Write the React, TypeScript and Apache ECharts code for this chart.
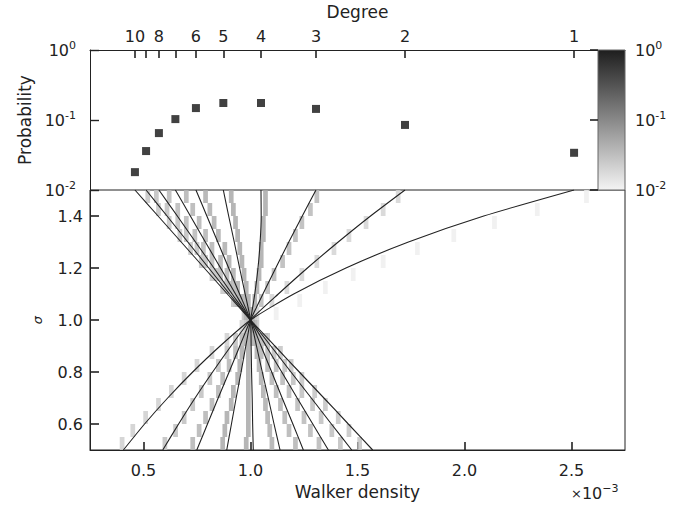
import React, { useEffect, useRef } from "react";
import * as echarts from "echarts";

// ---------- data ----------
const degrees = [10, 9, 8, 7, 6, 5, 4, 3, 2, 1];
const degreeLabels = ["10", "", "8", "", "6", "5", "4", "3", "2", "1"];
// walker density (x 1e-3) at which each degree sits on the top axis
const degreeX = [0.46, 0.512, 0.572, 0.649, 0.745, 0.873, 1.049, 1.306, 1.722, 2.512];
// probability of each degree (top panel)
const probability = [0.018, 0.036, 0.065, 0.103, 0.148, 0.175, 0.175, 0.144, 0.085, 0.034];

const xTicks = [0.5, 1.0, 1.5, 2.0, 2.5];
const sigmaTicks = [0.6, 0.8, 1.0, 1.2, 1.4];

// theory curves: walker density for each degree at these sigma values
const sigmaSamples = [0.5, 0.6, 0.7, 0.8, 0.9, 1.0, 1.1, 1.2, 1.3, 1.4, 1.5];
const curve10 = [1.571, 1.457, 1.343, 1.228, 1.114, 1.0, 0.892, 0.784, 0.676, 0.568, 0.46];
const curve9 = [1.473, 1.378, 1.284, 1.189, 1.095, 1.0, 0.902, 0.805, 0.707, 0.61, 0.512];
const curve8 = [1.364, 1.291, 1.218, 1.146, 1.073, 1.0, 0.914, 0.829, 0.743, 0.658, 0.572];
const curve7 = [1.247, 1.198, 1.148, 1.099, 1.049, 1.0, 0.93, 0.86, 0.789, 0.719, 0.649];
const curve6 = [1.138, 1.11, 1.083, 1.055, 1.028, 1.0, 0.949, 0.898, 0.847, 0.796, 0.745];
const curve5 = [1.013, 1.01, 1.008, 1.005, 1.003, 1.0, 0.975, 0.949, 0.924, 0.898, 0.873];
const curve4 = [0.889, 0.911, 0.933, 0.956, 0.978, 1.0, 1.02, 1.035, 1.045, 1.05, 1.049];
const curve3 = [0.749, 0.799, 0.849, 0.9, 0.95, 1.0, 1.058, 1.118, 1.179, 1.242, 1.306];
const curve2 = [0.59, 0.664, 0.741, 0.823, 0.909, 1.0, 1.13, 1.266, 1.41, 1.561, 1.722];
const curve1 = [0.406, 0.505, 0.613, 0.73, 0.858, 1.0, 1.202, 1.446, 1.738, 2.09, 2.512];
const curves = [curve10, curve9, curve8, curve7, curve6, curve5, curve4, curve3, curve2, curve1];

// simulated histogram cells: row centres (sigma) and the x of the cell in each row, per degree
const cellRows = [0.525, 0.575, 0.625, 0.675, 0.725, 0.775, 0.825, 0.875, 0.925, 0.975,
  1.025, 1.075, 1.125, 1.175, 1.225, 1.275, 1.325, 1.375, 1.425, 1.475];
const cells10 = [1.51, 1.46, 1.41, 1.35, 1.3, 1.24, 1.19, 1.14, 1.08, 1.03, 0.97, 0.92, 0.87, 0.82, 0.77, 0.72, 0.67, 0.62, 0.57, 0.52];
const cells9 = [1.42, 1.38, 1.33, 1.29, 1.24, 1.2, 1.16, 1.11, 1.07, 1.02, 0.98, 0.93, 0.89, 0.84, 0.79, 0.75, 0.7, 0.66, 0.61, 0.56];
const cells8 = [1.32, 1.28, 1.25, 1.22, 1.18, 1.15, 1.12, 1.08, 1.05, 1.02, 0.98, 0.94, 0.9, 0.86, 0.82, 0.78, 0.74, 0.7, 0.66, 0.62];
const cells7 = [1.21, 1.18, 1.16, 1.14, 1.12, 1.1, 1.08, 1.05, 1.03, 1.01, 0.98, 0.95, 0.92, 0.89, 0.86, 0.82, 0.79, 0.76, 0.73, 0.7];
const cells6 = [1.1, 1.09, 1.08, 1.07, 1.06, 1.05, 1.04, 1.03, 1.02, 1.01, 0.99, 0.97, 0.94, 0.92, 0.9, 0.88, 0.85, 0.83, 0.81, 0.79];
const cells5 = [0.98, 0.99, 0.99, 0.99, 0.99, 0.99, 0.99, 0.99, 1.0, 1.0, 1.0, 0.99, 0.98, 0.97, 0.96, 0.95, 0.94, 0.93, 0.92, 0.91];
const cells4 = [0.87, 0.88, 0.89, 0.91, 0.92, 0.94, 0.95, 0.96, 0.98, 0.99, 1.01, 1.02, 1.03, 1.04, 1.05, 1.05, 1.06, 1.06, 1.07, 1.07];
const cells3 = [0.73, 0.76, 0.79, 0.82, 0.85, 0.87, 0.9, 0.93, 0.96, 0.99, 1.02, 1.05, 1.08, 1.11, 1.15, 1.18, 1.21, 1.24, 1.28, 1.31];
const cells2 = [0.6, 0.65, 0.69, 0.73, 0.77, 0.81, 0.85, 0.89, 0.93, 0.98, 1.03, 1.1, 1.17, 1.24, 1.31, 1.39, 1.46, 1.54, 1.62, 1.69];
const cells1 = [0.4, 0.45, 0.51, 0.57, 0.63, 0.69, 0.75, 0.82, 0.89, 0.96, 1.12, 1.23, 1.35, 1.48, 1.62, 1.78, 1.95, 2.14, 2.34, 2.57];
const cellSets = [cells10, cells9, cells8, cells7, cells6, cells5, cells4, cells3, cells2, cells1];
// log10 of the cell shade value for each degree, below and above sigma = 1
const cellLevelLow = [-1.55, -1.5, -1.45, -1.4, -1.35, -1.3, -1.3, -1.4, -1.5, -1.65];
const cellLevelHigh = [-1.55, -1.5, -1.45, -1.4, -1.35, -1.3, -1.3, -1.45, -1.7, -1.95];

const FONT = "DejaVu Sans";
const INK = "#222";

export default function App() {
  const ref = useRef<HTMLDivElement>(null);

  useEffect(() => {
    const chart = echarts.init(ref.current as HTMLDivElement, null, { renderer: "svg" });

    const pow10 = (v: number) => `{b|10}{s|${Math.round(v)}}`;
    const richPow = {
      b: { fontSize: 16, fontFamily: FONT, color: INK, lineHeight: 20 },
      s: { fontSize: 11, fontFamily: FONT, color: INK, verticalAlign: "top", lineHeight: 12 },
    };

    const squares = degreeX.map((x, i) => [x, Math.log10(probability[i])]);

    const cellData: number[][] = [];
    cellSets.forEach((arr, d) => {
      arr.forEach((x, r) =>
        cellData.push([x, cellRows[r], cellRows[r] < 1 ? cellLevelLow[d] : cellLevelHigh[d]])
      );
    });

    const lineSeries = curves.map((c, i) => ({
      type: "line",
      name: `k=${degrees[i]}`,
      xAxisIndex: 1,
      yAxisIndex: 2,
      data: c.map((x, j) => [x, sigmaSamples[j]]),
      showSymbol: false,
      smooth: 0.2,
      lineStyle: { color: INK, width: 1.1 },
      z: 5,
    }));

    const cellW = 0.022;
    const cellH = 0.05;

    const option: any = {
      animation: false,
      textStyle: { fontFamily: FONT },
      grid: [
        { left: 90, right: 70, top: 50, height: 140 },
        { left: 90, right: 70, top: 190, height: 260, show: true, borderColor: INK, borderWidth: 1, backgroundColor: "transparent" },
        {
          left: 598, width: 27, top: 50, height: 140, show: true, borderColor: "#666", borderWidth: 1,
          backgroundColor: new echarts.graphic.LinearGradient(0, 0, 0, 1, [
            { offset: 0, color: "#1e1e1e" },
            { offset: 1, color: "#f4f4f4" },
          ]),
          z: 3,
        },
      ],
      visualMap: {
        show: false,
        type: "continuous",
        seriesIndex: 1,
        dimension: 2,
        min: -2,
        max: 0,
        inRange: { color: ["#f4f4f4", "#1e1e1e"] },
      },
      xAxis: [
        {
          gridIndex: 0,
          type: "value",
          position: "top",
          min: 0.25,
          max: 2.75,
          name: "Degree",
          nameLocation: "middle",
          nameGap: 30,
          nameTextStyle: { fontSize: 17, color: INK, fontFamily: FONT },
          axisLine: { show: true, lineStyle: { color: INK, width: 1 } },
          axisTick: { show: true, inside: true, length: 8, customValues: degreeX, lineStyle: { color: INK, width: 1.6 } },
          axisLabel: {
            show: true,
            customValues: degreeX.filter((_, i) => degreeLabels[i] !== ""),
            margin: 6,
            fontSize: 16,
            color: INK,
            fontFamily: FONT,
            formatter: (v: number) => {
              let best = 0;
              degreeX.forEach((x, i) => { if (Math.abs(x - v) < Math.abs(degreeX[best] - v)) best = i; });
              return degreeLabels[best];
            },
          },
          splitLine: { show: false },
        },
        {
          gridIndex: 1,
          type: "value",
          position: "bottom",
          min: 0.25,
          max: 2.75,
          name: "Walker density",
          nameLocation: "middle",
          nameGap: 33,
          nameTextStyle: { fontSize: 17, color: INK, fontFamily: FONT },
          axisLine: { show: true, lineStyle: { color: INK, width: 1 } },
          axisTick: { show: true, inside: true, length: 8, customValues: xTicks, lineStyle: { color: INK, width: 1.6 } },
          axisLabel: {
            customValues: xTicks,
            margin: 12,
            fontSize: 16,
            color: INK,
            fontFamily: FONT,
            formatter: (v: number) => v.toFixed(1),
          },
          splitLine: { show: false },
        },
        {
          gridIndex: 2,
          type: "value",
          min: 0,
          max: 1,
          show: false,
        },
      ],
      yAxis: [
        {
          gridIndex: 0,
          type: "value",
          min: -2,
          max: 0,
          interval: 1,
          name: "Probability",
          nameLocation: "middle",
          nameGap: 57,
          nameRotate: 90,
          nameTextStyle: { fontSize: 17, color: INK, fontFamily: FONT },
          axisLine: { show: true, lineStyle: { color: INK, width: 1 } },
          axisTick: { show: true, inside: true, length: 9, lineStyle: { color: INK, width: 1.4 } },
          axisLabel: { margin: 14, formatter: pow10, rich: richPow },
          splitLine: { show: false },
        },
        {
          gridIndex: 0,
          type: "value",
          min: -2,
          max: 0,
          axisLine: { show: false },
          axisTick: {
            show: true,
            inside: true,
            length: 4,
            customValues: [2, 3, 4, 5, 6, 7, 8, 9].flatMap((k) => [Math.log10(k) - 2, Math.log10(k) - 1]),
            lineStyle: { color: INK, width: 1 },
          },
          axisLabel: { show: false },
          splitLine: { show: false },
        },
        {
          gridIndex: 1,
          type: "value",
          min: 0.5,
          max: 1.5,
          name: "σ",
          nameLocation: "middle",
          nameGap: 46,
          nameRotate: 90,
          nameTextStyle: { fontSize: 13, color: INK, fontFamily: FONT, fontStyle: "italic" },
          axisLine: { show: true, lineStyle: { color: INK, width: 1 } },
          axisTick: { show: true, inside: true, length: 9, customValues: sigmaTicks, lineStyle: { color: INK, width: 1.6 } },
          axisLabel: {
            customValues: sigmaTicks,
            margin: 7,
            fontSize: 16,
            color: INK,
            fontFamily: FONT,
            formatter: (v: number) => v.toFixed(1),
          },
          splitLine: { show: false },
        },
        {
          gridIndex: 2,
          type: "value",
          position: "right",
          min: -2,
          max: 0,
          interval: 1,
          axisLine: { show: false },
          axisTick: { show: true, inside: true, length: 8, lineStyle: { color: INK, width: 1.6 } },
          axisLabel: { margin: 10, formatter: pow10, rich: richPow },
          splitLine: { show: false },
          z: 4,
        },
      ],
      series: [
        {
          type: "scatter",
          xAxisIndex: 0,
          yAxisIndex: 0,
          data: squares,
          symbol: "rect",
          symbolSize: 8,
          itemStyle: { color: "#111" },
          z: 6,
        },
        {
          type: "custom",
          xAxisIndex: 1,
          yAxisIndex: 2,
          data: cellData,
          clip: true,
          z: 2,
          renderItem: (params: any, api: any) => {
            const x = api.value(0);
            const s = api.value(1);
            const p0 = api.coord([x - cellW / 2, s + cellH / 2]);
            const p1 = api.coord([x + cellW / 2, s - cellH / 2]);
            return {
              type: "rect",
              shape: { x: p0[0], y: p0[1], width: p1[0] - p0[0], height: p1[1] - p0[1] },
              style: { fill: api.visual("color"), opacity: 0.85 },
            };
          },
        },
        ...lineSeries,
      ],
      graphic: [
        {
          type: "text",
          left: 571,
          top: 483,
          style: {
            text: "{m|×}{b|10}{s|−3}",
            rich: {
              m: { fontSize: 13, fontFamily: FONT, fill: INK, lineHeight: 20 },
              b: { fontSize: 16, fontFamily: FONT, fill: INK, lineHeight: 20 },
              s: { fontSize: 11, fontFamily: FONT, fill: INK, verticalAlign: "top", lineHeight: 12 },
            },
          },
        },
      ],
    };

    chart.setOption(option);
    return () => chart.dispose();
  }, []);

  return (
    <div
      ref={ref}
      style={{ position: "fixed", left: 0, top: 0, width: 695, height: 509, background: "#fff" }}
    />
  );
}
